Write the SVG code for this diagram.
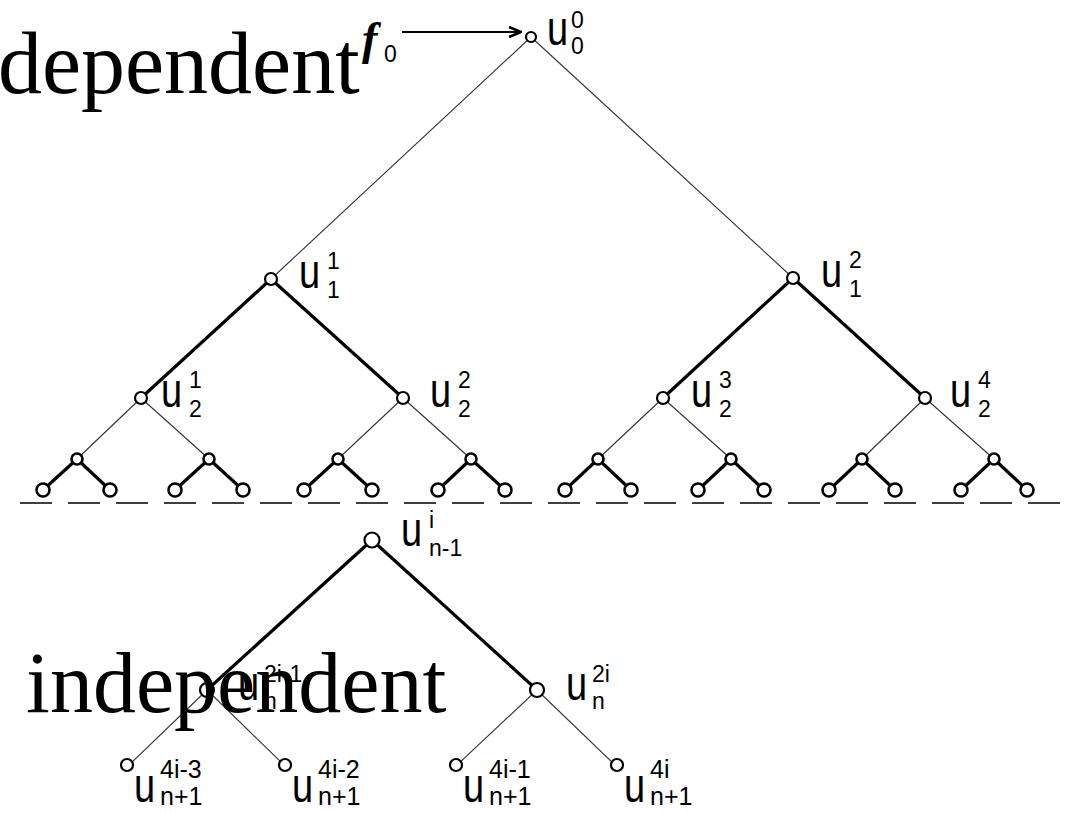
<svg xmlns="http://www.w3.org/2000/svg" width="1072" height="813" viewBox="0 0 1072 813">
<style>
.thin{stroke:#333;stroke-width:1.1;fill:none}
.thick{stroke:#000;stroke-width:3.2;fill:none}
.dash{stroke:#000;stroke-width:1.6;stroke-dasharray:32 16;fill:none}
.n{fill:#fff;stroke:#000;stroke-width:2.2}
.n4{fill:#fff;stroke:#000;stroke-width:2.6}
.u{font-family:"Liberation Sans",Arial,sans-serif;font-size:38px;fill:#000}
.d{font-family:"Liberation Sans",Arial,sans-serif;font-size:23px;fill:#000}
.s{font-family:"Liberation Sans",Arial,sans-serif;font-size:25px;fill:#000}
.big{font-family:"Liberation Serif","Times New Roman",serif;fill:#000}
</style>
<defs>
<marker id="ah" markerWidth="14" markerHeight="12" refX="13" refY="6" orient="auto" markerUnits="userSpaceOnUse">
<path d="M1,1 L13,6 L1,11" fill="none" stroke="#000" stroke-width="2.6"/>
</marker>
</defs>
<g id="connectors">
<line class="thin" x1="531" y1="37" x2="271" y2="279"/>
<line class="thin" x1="531" y1="37" x2="793" y2="278"/>
<line class="thick" x1="271" y1="279" x2="141" y2="398"/>
<line class="thick" x1="271" y1="279" x2="403" y2="398"/>
<line class="thick" x1="793" y1="278" x2="663" y2="398"/>
<line class="thick" x1="793" y1="278" x2="925" y2="398"/>
<line class="thin" x1="141" y1="398" x2="77" y2="459"/>
<line class="thin" x1="141" y1="398" x2="209" y2="459"/>
<line class="thin" x1="403" y1="398" x2="338" y2="459"/>
<line class="thin" x1="403" y1="398" x2="471" y2="459"/>
<line class="thin" x1="663" y1="398" x2="598" y2="459"/>
<line class="thin" x1="663" y1="398" x2="731" y2="459"/>
<line class="thin" x1="925" y1="398" x2="862" y2="459"/>
<line class="thin" x1="925" y1="398" x2="994" y2="459"/>
<line class="thick" x1="77" y1="459" x2="43" y2="490"/>
<line class="thick" x1="77" y1="459" x2="110" y2="490"/>
<line class="thick" x1="209" y1="459" x2="175" y2="490"/>
<line class="thick" x1="209" y1="459" x2="243" y2="490"/>
<line class="thick" x1="338" y1="459" x2="304" y2="490"/>
<line class="thick" x1="338" y1="459" x2="372" y2="490"/>
<line class="thick" x1="471" y1="459" x2="438" y2="490"/>
<line class="thick" x1="471" y1="459" x2="505" y2="490"/>
<line class="thick" x1="598" y1="459" x2="565" y2="490"/>
<line class="thick" x1="598" y1="459" x2="631" y2="490"/>
<line class="thick" x1="731" y1="459" x2="698" y2="490"/>
<line class="thick" x1="731" y1="459" x2="764" y2="490"/>
<line class="thick" x1="862" y1="459" x2="829" y2="490"/>
<line class="thick" x1="862" y1="459" x2="895" y2="490"/>
<line class="thick" x1="994" y1="459" x2="961" y2="490"/>
<line class="thick" x1="994" y1="459" x2="1027" y2="490"/>
<line class="dash" x1="20" y1="503" x2="1064" y2="503"/>
<line class="thick" x1="372" y1="540" x2="207" y2="690"/>
<line class="thick" x1="372" y1="540" x2="537" y2="690"/>
<line class="thin" x1="207" y1="690" x2="128" y2="766"/>
<line class="thin" x1="207" y1="690" x2="285" y2="766"/>
<line class="thin" x1="537" y1="690" x2="456" y2="766"/>
<line class="thin" x1="537" y1="690" x2="616" y2="766"/>
<line x1="402" y1="32" x2="521" y2="32" stroke="#000" stroke-width="2.2" marker-end="url(#ah)"/>
</g>
<g id="label-dependent">
<text class="big" x="-2" y="93" font-size="88">dependent</text>
</g>
<g id="f0">
<text class="big" x="362" y="54" font-size="46" font-style="italic" font-weight="bold">f</text>
<text class="d" x="384" y="62">0</text>
</g>
<g id="u0_0">
<circle class="n" cx="531" cy="37" r="5"/>
<text class="u" transform="translate(547,45) scale(1,1.25)">u</text>
<text class="d" x="571" y="28">0</text>
<text class="d" x="571" y="54">0</text>
</g>
<g id="u1_1">
<circle class="n" cx="271" cy="279" r="6"/>
<text class="u" transform="translate(299,288) scale(1,1.25)">u</text>
<text class="d" x="327" y="269">1</text>
<text class="d" x="327" y="298">1</text>
</g>
<g id="u1_2">
<circle class="n" cx="793" cy="278" r="6"/>
<text class="u" transform="translate(821,287) scale(1,1.25)">u</text>
<text class="d" x="849" y="268">2</text>
<text class="d" x="849" y="297">1</text>
</g>
<g id="u2_1">
<circle class="n" cx="141" cy="398" r="6"/>
<text class="u" transform="translate(161,407) scale(1,1.25)">u</text>
<text class="d" x="189" y="388">1</text>
<text class="d" x="189" y="417">2</text>
</g>
<g id="u2_2">
<circle class="n" cx="403" cy="398" r="6"/>
<text class="u" transform="translate(430,407) scale(1,1.25)">u</text>
<text class="d" x="458" y="388">2</text>
<text class="d" x="458" y="417">2</text>
</g>
<g id="u2_3">
<circle class="n" cx="663" cy="398" r="6"/>
<text class="u" transform="translate(691,407) scale(1,1.25)">u</text>
<text class="d" x="719" y="388">3</text>
<text class="d" x="719" y="417">2</text>
</g>
<g id="u2_4">
<circle class="n" cx="925" cy="398" r="6"/>
<text class="u" transform="translate(950,407) scale(1,1.25)">u</text>
<text class="d" x="978" y="388">4</text>
<text class="d" x="978" y="417">2</text>
</g>
<g id="level3">
<circle class="n4" cx="77" cy="459" r="5.5"/>
<circle class="n4" cx="209" cy="459" r="5.5"/>
<circle class="n4" cx="338" cy="459" r="5.5"/>
<circle class="n4" cx="471" cy="459" r="5.5"/>
<circle class="n4" cx="598" cy="459" r="5.5"/>
<circle class="n4" cx="731" cy="459" r="5.5"/>
<circle class="n4" cx="862" cy="459" r="5.5"/>
<circle class="n4" cx="994" cy="459" r="5.5"/>
</g>
<g id="level4">
<circle class="n4" cx="43" cy="490" r="6.5"/>
<circle class="n4" cx="110" cy="490" r="6.5"/>
<circle class="n4" cx="175" cy="490" r="6.5"/>
<circle class="n4" cx="243" cy="490" r="6.5"/>
<circle class="n4" cx="304" cy="490" r="6.5"/>
<circle class="n4" cx="372" cy="490" r="6.5"/>
<circle class="n4" cx="438" cy="490" r="6.5"/>
<circle class="n4" cx="505" cy="490" r="6.5"/>
<circle class="n4" cx="565" cy="490" r="6.5"/>
<circle class="n4" cx="631" cy="490" r="6.5"/>
<circle class="n4" cx="698" cy="490" r="6.5"/>
<circle class="n4" cx="764" cy="490" r="6.5"/>
<circle class="n4" cx="829" cy="490" r="6.5"/>
<circle class="n4" cx="895" cy="490" r="6.5"/>
<circle class="n4" cx="961" cy="490" r="6.5"/>
<circle class="n4" cx="1027" cy="490" r="6.5"/>
</g>
<g id="un-1_i">
<circle class="n" cx="372" cy="540" r="7.5"/>
<text class="u" transform="translate(401,546) scale(1,1.25)">u</text>
<text class="d" x="429" y="528">i</text>
<text class="d" x="429" y="556">n-1</text>
</g>
<g id="un_2i-1">
<circle class="n" cx="207" cy="690" r="7"/>
<text class="u" transform="translate(238,700) scale(1,1.25)">u</text>
<text class="d" x="264" y="682">2i-1</text>
<text class="d" x="264" y="709">n</text>
</g>
<g id="un_2i">
<circle class="n" cx="537" cy="690" r="7"/>
<text class="u" transform="translate(566,700) scale(1,1.25)">u</text>
<text class="d" x="592" y="682">2i</text>
<text class="d" x="592" y="709">n</text>
</g>
<g id="un+1_4i-3">
<circle class="n" cx="127" cy="765" r="6"/>
<text class="u" transform="translate(134,802) scale(1,1.25)">u</text>
<text class="s" x="160" y="778">4i-3</text>
<text class="s" x="160" y="805">n+1</text>
</g>
<g id="un+1_4i-2">
<circle class="n" cx="285" cy="765" r="6"/>
<text class="u" transform="translate(292,802) scale(1,1.25)">u</text>
<text class="s" x="318" y="778">4i-2</text>
<text class="s" x="318" y="805">n+1</text>
</g>
<g id="un+1_4i-1">
<circle class="n" cx="456" cy="765" r="6"/>
<text class="u" transform="translate(463,802) scale(1,1.25)">u</text>
<text class="s" x="489" y="778">4i-1</text>
<text class="s" x="489" y="805">n+1</text>
</g>
<g id="un+1_4i">
<circle class="n" cx="617" cy="765" r="6"/>
<text class="u" transform="translate(624,802) scale(1,1.25)">u</text>
<text class="s" x="650" y="778">4i</text>
<text class="s" x="650" y="805">n+1</text>
</g>
<g id="label-independent">
<text class="big" x="26" y="712" font-size="86">independent</text>
</g>
</svg>
